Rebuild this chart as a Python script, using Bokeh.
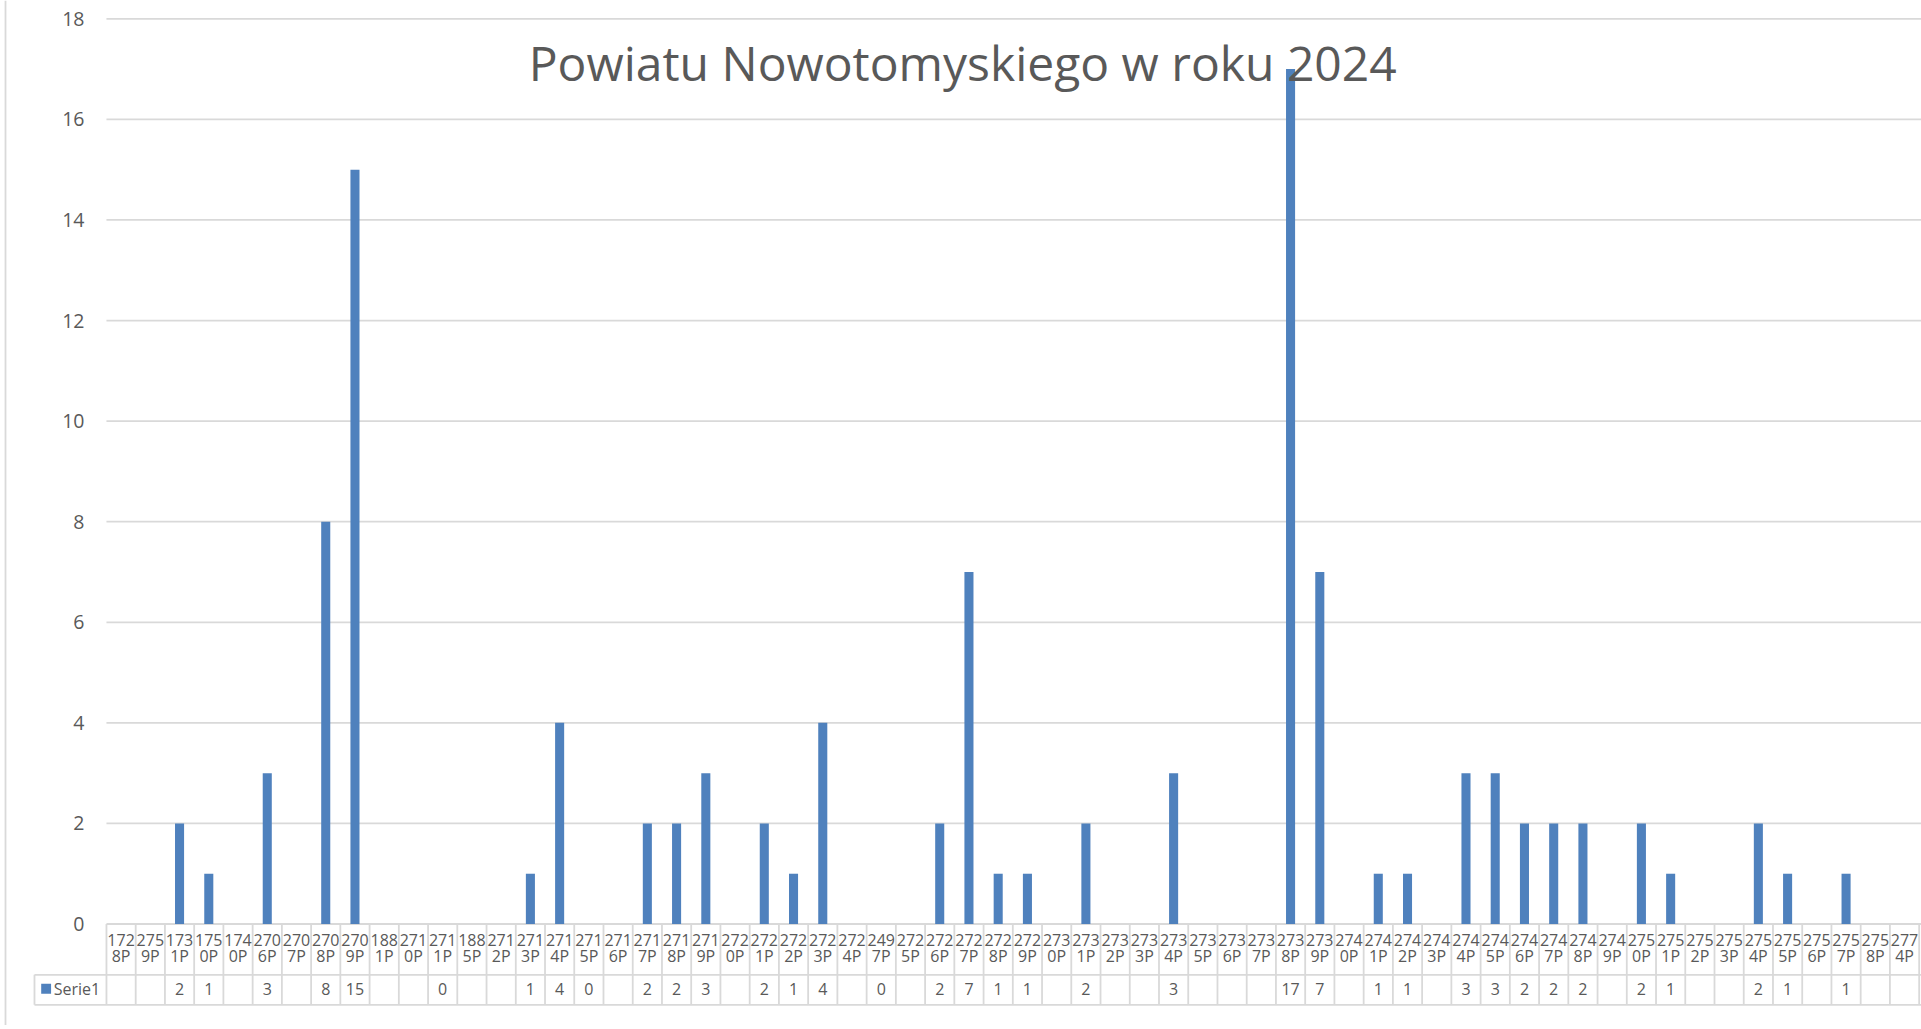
from bokeh.plotting import figure
from bokeh.models import ColumnDataSource, Range1d
from bokeh.core.properties import value
from bokeh.embed import file_html
from bokeh.resources import INLINE

# ---------------- data ----------------
categories = ["1728P", "2759P", "1731P", "1750P", "1740P", "2706P", "2707P", "2708P", "2709P",
              "1881P", "2710P", "2711P", "1885P", "2712P", "2713P", "2714P", "2715P", "2716P",
              "2717P", "2718P", "2719P", "2720P", "2721P", "2722P", "2723P", "2724P", "2497P",
              "2725P", "2726P", "2727P", "2728P", "2729P", "2730P", "2731P", "2732P", "2733P",
              "2734P", "2735P", "2736P", "2737P", "2738P", "2739P", "2740P", "2741P", "2742P",
              "2743P", "2744P", "2745P", "2746P", "2747P", "2748P", "2749P", "2750P", "2751P",
              "2752P", "2753P", "2754P", "2755P", "2756P", "2757P", "2758P", "2774P"]
serie1 = [None, None, 2, 1, None, 3, None, 8, 15,
          None, None, 0, None, None, 1, 4, 0, None,
          2, 2, 3, None, 2, 1, 4, None, 0,
          None, 2, 7, 1, 1, None, 2, None, None,
          3, None, None, None, 17, 7, None, 1, 1,
          None, 3, 3, 2, 2, 2, None, 2, 1,
          None, None, 2, 1, None, 1, None, None]
y_ticks = [0, 2, 4, 6, 8, 10, 12, 14, 16, 18]
series_name = "Serie1"
title_text = "Powiatu Nowotomyskiego  w roku 2024"

# ---------------- style / layout ----------------
FONT = "Open Sans"
TXT = "#595959"
GRID = "#D9D9D9"
BAR = "#4F81BD"

W, H = 1921, 1025
X0, X1 = -3.624, 62.08           # horizontal data window (category slots)
Y0, Y1 = -2.018, 18.364          # vertical data window

ROW1_BOTTOM = -1.010
ROW2_BOTTOM = -1.607
Y_LINE1 = -0.314
Y_LINE2 = -0.642
Y_VAL = -1.289
LEG_LEFT = -2.4615
TICK_LABEL_X = -0.752
BORDER_X = -3.453

n = len(categories)
xs = [i + 0.5 for i in range(n)]
bx = [x for x, v in zip(xs, serie1) if v is not None]
bv = [v for v in serie1 if v is not None]
bar_src = ColumnDataSource(dict(x=bx, top=bv))
lab_src = ColumnDataSource(dict(
    x=xs,
    t1=[c[:3] for c in categories],
    t2=[c[3:] for c in categories],
    val=["" if v is None else str(v) for v in serie1],
))

p = figure(width=W, height=H, output_backend="svg", toolbar_location=None,
           x_range=Range1d(X0, X1), y_range=Range1d(Y0, Y1),
           x_axis_location=None, y_axis_location=None,
           min_border_left=0, min_border_right=0, min_border_top=0, min_border_bottom=0)
p.outline_line_color = None
p.grid.grid_line_color = None
p.background_fill_color = "white"
p.border_fill_color = "white"

# chart area border (left edge)
p.segment(x0=[BORDER_X], y0=[Y0], x1=[BORDER_X], y1=[Y1], line_color=GRID, line_width=1.8)

# horizontal gridlines + y tick labels
p.segment(x0=[0] * len(y_ticks), y0=y_ticks, x1=[X1] * len(y_ticks), y1=y_ticks,
          line_color=GRID, line_width=1.8)
p.text(x=[TICK_LABEL_X] * len(y_ticks), y=y_ticks, text=[str(t) for t in y_ticks],
       text_font=value(FONT), text_font_size="19.5px", text_color=TXT,
       text_align="right", text_baseline="middle")

# bars
p.vbar(x="x", top="top", width=0.31, bottom=0, source=bar_src,
       fill_color=BAR, line_color=None)

# data table grid
bounds = list(range(n + 1))
p.segment(x0=bounds, y0=[0] * len(bounds), x1=bounds, y1=[ROW2_BOTTOM] * len(bounds),
          line_color=GRID, line_width=1.8)
p.segment(x0=[0, LEG_LEFT], y0=[ROW1_BOTTOM, ROW2_BOTTOM], x1=[X1, X1],
          y1=[ROW1_BOTTOM, ROW2_BOTTOM], line_color=GRID, line_width=1.8)
p.segment(x0=[LEG_LEFT, LEG_LEFT], y0=[ROW1_BOTTOM, ROW1_BOTTOM],
          x1=[0, LEG_LEFT], y1=[ROW1_BOTTOM, ROW2_BOTTOM], line_color=GRID, line_width=1.8)

# category labels (wrapped in two lines) and values
common = dict(source=lab_src, text_font=value(FONT), text_font_size="16px",
              text_color=TXT, text_align="center", text_baseline="middle")
p.text(x="x", y=Y_LINE1, text="t1", **common)
p.text(x="x", y=Y_LINE2, text="t2", **common)
p.text(x="x", y=Y_VAL, text="val", **common)

# legend key of the data table
p.quad(left=[-2.232], right=[-1.894], bottom=[Y_VAL - 0.1], top=[Y_VAL + 0.1],
       fill_color=BAR, line_color=None)
p.text(x=[-1.802], y=[Y_VAL], text=[series_name], text_font=value(FONT),
       text_font_size="16px", text_color=TXT, text_align="left", text_baseline="middle")

# title (second line of the original title; the first line is cut off above)
p.text(x=[29.50], y=[17.13], text=[title_text], text_font=value(FONT),
       text_font_size="48px", text_color=TXT, text_align="center",
       text_baseline="alphabetic")

open("out.html", "w").write(file_html(p, INLINE))
